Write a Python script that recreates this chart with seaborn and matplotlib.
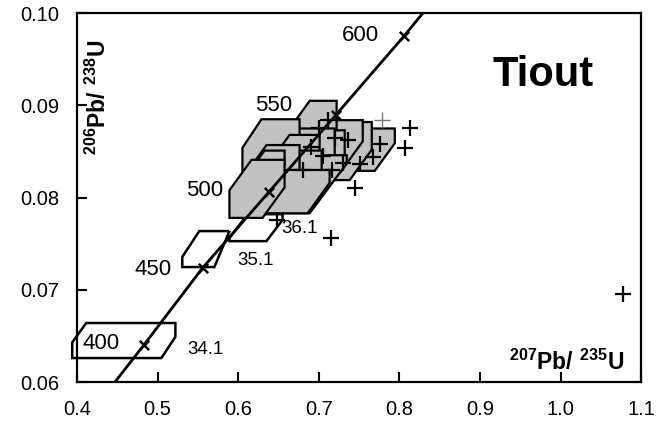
import matplotlib
matplotlib.use("Agg")
import matplotlib.pyplot as plt
from matplotlib.patches import Polygon
import seaborn as sns
import pandas as pd

# ---------------- data ----------------
# concordia curve (207Pb/235U, 206Pb/238U) and age marks (Ma)
conc_line_x = [0.447, 0.4828, 0.556, 0.638, 0.7215, 0.8055, 0.829]
conc_line_y = [0.0600, 0.0640, 0.0724, 0.0806, 0.0890, 0.0975, 0.1000]
age_labels = ["400", "450", "500", "550", "600"]
age_x = [0.4828, 0.556, 0.638, 0.7215, 0.8055]
age_y = [0.0640, 0.0724, 0.0806, 0.0890, 0.0975]
age_label_x = [0.430, 0.4945, 0.5586, 0.6438, 0.752]
age_label_y = [0.0642, 0.0722, 0.0808, 0.0900, 0.0976]

# open (unshaded) error boxes
open_x0 = [0.394, 0.5306, 0.5891]
open_x1 = [0.522, 0.5891, 0.655]
open_y0 = [0.0626, 0.07247, 0.07528]
open_y1 = [0.0664, 0.07637, 0.0782]
open_tl_cx = [0.0174, 0.0211, 0.0224]
open_tl_cy = [0.0021, 0.0028, 0.0026]
open_br_cx = [0.0174, 0.0187, 0.0200]
open_br_cy = [0.0023, 0.0039, 0.0023]

# shaded error boxes (cluster), in drawing order
gray_x0 = [0.7259, 0.7010, 0.6823, 0.6575, 0.6699, 0.6512, 0.6326, 0.6052, 0.6388, 0.6450, 0.6102, 0.6139, 0.6239, 0.5891]
gray_x1 = [0.7943, 0.7657, 0.7545, 0.7221, 0.7321, 0.7197, 0.7346, 0.6761, 0.7010, 0.7035, 0.6761, 0.6575, 0.7134, 0.6575]
gray_y0 = [0.0829, 0.0819, 0.0828, 0.0824, 0.0808, 0.0803, 0.0783, 0.0808, 0.0814, 0.0792, 0.0797, 0.0814, 0.0783, 0.0778]
gray_y1 = [0.0875, 0.0882, 0.0884, 0.0905, 0.0873, 0.0875, 0.0846, 0.0885, 0.0868, 0.0851, 0.0857, 0.0851, 0.0830, 0.0841]
gray_cx = [0.0249, 0.0274, 0.0274, 0.0311, 0.0250, 0.0249, 0.0460, 0.0236, 0.0249, 0.0250, 0.0249, 0.0187, 0.0274, 0.0274]
gray_cy = [0.0030, 0.0033, 0.0033, 0.0038, 0.0030, 0.0030, 0.0054, 0.0031, 0.0030, 0.0030, 0.0030, 0.0022, 0.0033, 0.0033]

# individual analyses shown as crosses
cross_x = [1.078, 0.7147, 0.7445, 0.8129, 0.8067, 0.7756, 0.767, 0.751, 0.730, 0.716,
           0.736, 0.711, 0.6475, 0.700, 0.690, 0.705, 0.680, 0.720]
cross_y = [0.0696, 0.0756, 0.0810, 0.0875, 0.0854, 0.0858, 0.0844, 0.0837, 0.0838, 0.0830,
           0.0862, 0.0884, 0.0776, 0.0875, 0.0855, 0.0845, 0.0830, 0.0865]
faint_cross_x = [0.778]
faint_cross_y = [0.0884]

spot_labels = ["34.1", "35.1", "36.1"]
spot_x = [0.5592, 0.622, 0.676]
spot_y = [0.0635, 0.0732, 0.0766]

xticks = [0.4, 0.5, 0.6, 0.7, 0.8, 0.9, 1.0, 1.1]
xtick_labels = ["0.4", "0.5", "0.6", "0.7", "0.8", "0.9", "1.0", "1.1"]
yticks = [0.06, 0.07, 0.08, 0.09, 0.10]
ytick_labels = ["0.06", "0.07", "0.08", "0.09", "0.10"]

# ---------------- styling ----------------
sns.set_theme(style="white")
plt.rcParams["font.family"] = ["Liberation Sans", "DejaVu Sans"]
plt.rcParams["mathtext.fontset"] = "custom"
plt.rcParams["mathtext.rm"] = "Liberation Sans"
plt.rcParams["mathtext.bf"] = "Liberation Sans:bold"

fig = plt.figure(figsize=(6.7, 4.21), dpi=100)
ax = fig.add_axes([0.115, 0.0926, 0.842, 0.876])
ax.set_xlim(0.4, 1.1)
ax.set_ylim(0.06, 0.10)


def hexagon(x0, x1, y0, y1, tlx, tly, brx, bry):
    return [(x0 + tlx, y1), (x1, y1), (x1, y0 + bry), (x1 - brx, y0),
            (x0, y0), (x0, y1 - tly)]


# open boxes
for i in range(len(open_x0)):
    pts = hexagon(open_x0[i], open_x1[i], open_y0[i], open_y1[i],
                  open_tl_cx[i], open_tl_cy[i], open_br_cx[i], open_br_cy[i])
    ax.add_patch(Polygon(pts, closed=True, facecolor="none", edgecolor="black",
                         linewidth=1.8, clip_on=False, zorder=2))

# shaded boxes
for i in range(len(gray_x0)):
    pts = hexagon(gray_x0[i], gray_x1[i], gray_y0[i], gray_y1[i],
                  gray_cx[i], gray_cy[i], gray_cx[i], gray_cy[i])
    ax.add_patch(Polygon(pts, closed=True, facecolor="#c2c2c2", edgecolor="black",
                         linewidth=1.6, zorder=3))

# concordia
conc_df = pd.DataFrame({"x": conc_line_x, "y": conc_line_y})
sns.lineplot(data=conc_df, x="x", y="y", ax=ax, color="black", linewidth=2.0,
             sort=False, estimator=None, zorder=5)
ages_df = pd.DataFrame({"x": age_x, "y": age_y})
sns.scatterplot(data=ages_df, x="x", y="y", ax=ax, marker="x", s=45,
                color="black", linewidth=1.8, zorder=6)

# crosses
cross_df = pd.DataFrame({"x": cross_x, "y": cross_y})
sns.scatterplot(data=cross_df, x="x", y="y", ax=ax, marker="+", s=120,
                color="black", linewidth=1.6, zorder=6)
faint_df = pd.DataFrame({"x": faint_cross_x, "y": faint_cross_y})
sns.scatterplot(data=faint_df, x="x", y="y", ax=ax, marker="+", s=120,
                color="#777777", linewidth=1.0, zorder=6)

# labels
for lab, x, y in zip(age_labels, age_label_x, age_label_y):
    ax.text(x, y, lab, ha="center", va="center", fontsize=16, color="black",
            zorder=7)
for lab, x, y in zip(spot_labels, spot_x, spot_y):
    ax.text(x, y, lab, ha="center", va="center", fontsize=13.5, color="black",
            zorder=7)

ax.text(0.9784, 0.0933, "Tiout", ha="center", va="center", fontsize=30,
        fontweight="bold", color="black")
ax.text(1.079, 0.0613, r"$\mathbf{^{207}Pb/\ ^{235}U}$", ha="right",
        va="baseline", fontsize=16.5, color="black")
ax.text(0.4265, 0.0909, r"$\mathbf{^{206}Pb/\ ^{238}U}$", ha="center",
        va="center", rotation=90, fontsize=16.5, color="black")

ax.set_xlabel("")
ax.set_ylabel("")
ax.set_xticks(xticks)
ax.set_xticklabels(xtick_labels)
ax.set_yticks(yticks)
ax.set_yticklabels(ytick_labels)
ax.tick_params(axis="both", which="major", direction="in", length=7, width=1.5,
               labelsize=14.5, colors="black", pad=13, top=False, right=False,
               bottom=True, left=True)
for sp in ax.spines.values():
    sp.set_color("black")
    sp.set_linewidth(1.6)
    sp.set_visible(True)

fig.savefig("out.png", dpi=100)
